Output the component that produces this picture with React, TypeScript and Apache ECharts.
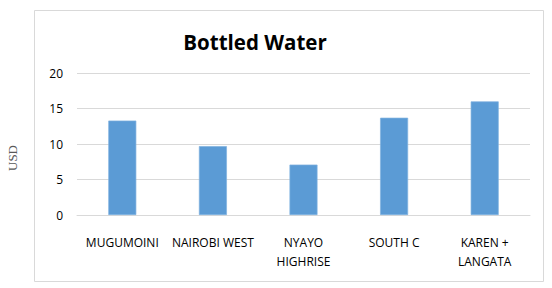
import React, { useEffect, useRef } from "react";
import * as echarts from "echarts";

const title = "Bottled Water";
const categories = ["MUGUMOINI", "NAIROBI WEST", "NYAYO\nHIGHRISE", "SOUTH C", "KAREN +\nLANGATA"];
const values = [13.3, 9.7, 7.1, 13.7, 16.0];
const yAxisName = "USD";
const yMin = 0;
const yMax = 20;
const yInterval = 5;

export default function App() {
  const ref = useRef<HTMLDivElement>(null);
  useEffect(() => {
    if (!ref.current) return;
    const chart = echarts.init(ref.current, null, { renderer: "svg" });
    chart.setOption({
      animation: false,
      backgroundColor: "#ffffff",
      graphic: [
        {
          type: "rect",
          shape: { x: 34.5, y: 10.5, width: 509, height: 271 },
          style: { fill: "none", stroke: "#d9d9d9", lineWidth: 1 },
          silent: true,
        },
        {
          type: "text",
          x: 255,
          y: 42,
          style: {
            text: title,
            fontFamily: "Open Sans",
            fontWeight: "bold",
            fontSize: 20.5,
            fill: "#000000",
            align: "center",
            verticalAlign: "middle",
          },
        },
        {
          type: "text",
          x: 12,
          y: 158,
          rotation: Math.PI / 2,
          style: {
            text: yAxisName,
            fontFamily: "Liberation Serif",
            fontSize: 13,
            fill: "#595959",
            align: "center",
            verticalAlign: "middle",
          },
        },
      ],
      grid: { left: 77, right: 22, top: 73, bottom: 73, containLabel: false },
      xAxis: {
        type: "category",
        data: categories,
        axisLine: { show: true, lineStyle: { color: "#d9d9d9" } },
        axisTick: { show: false },
        axisLabel: {
          interval: 0,
          margin: 18,
          fontFamily: "Open Sans",
          fontSize: 12,
          lineHeight: 19,
          color: "#000000",
        },
      },
      yAxis: {
        type: "value",
        min: yMin,
        max: yMax,
        interval: yInterval,
        axisLine: { show: false },
        axisTick: { show: false },
        splitLine: { lineStyle: { color: "#d9d9d9", width: 1 } },
        axisLabel: { margin: 14, fontFamily: "Open Sans", fontSize: 12, color: "#000000" },
      },
      series: [
        {
          type: "bar",
          data: values,
          barWidth: 28,
          itemStyle: { color: "#5b9bd5", borderColor: "#7fb1e0", borderWidth: 0.7 },
        },
      ],
    });
    return () => chart.dispose();
  }, []);
  return <div ref={ref} style={{ position: "fixed", left: 0, top: 0, width: 552, height: 288 }} />;
}
